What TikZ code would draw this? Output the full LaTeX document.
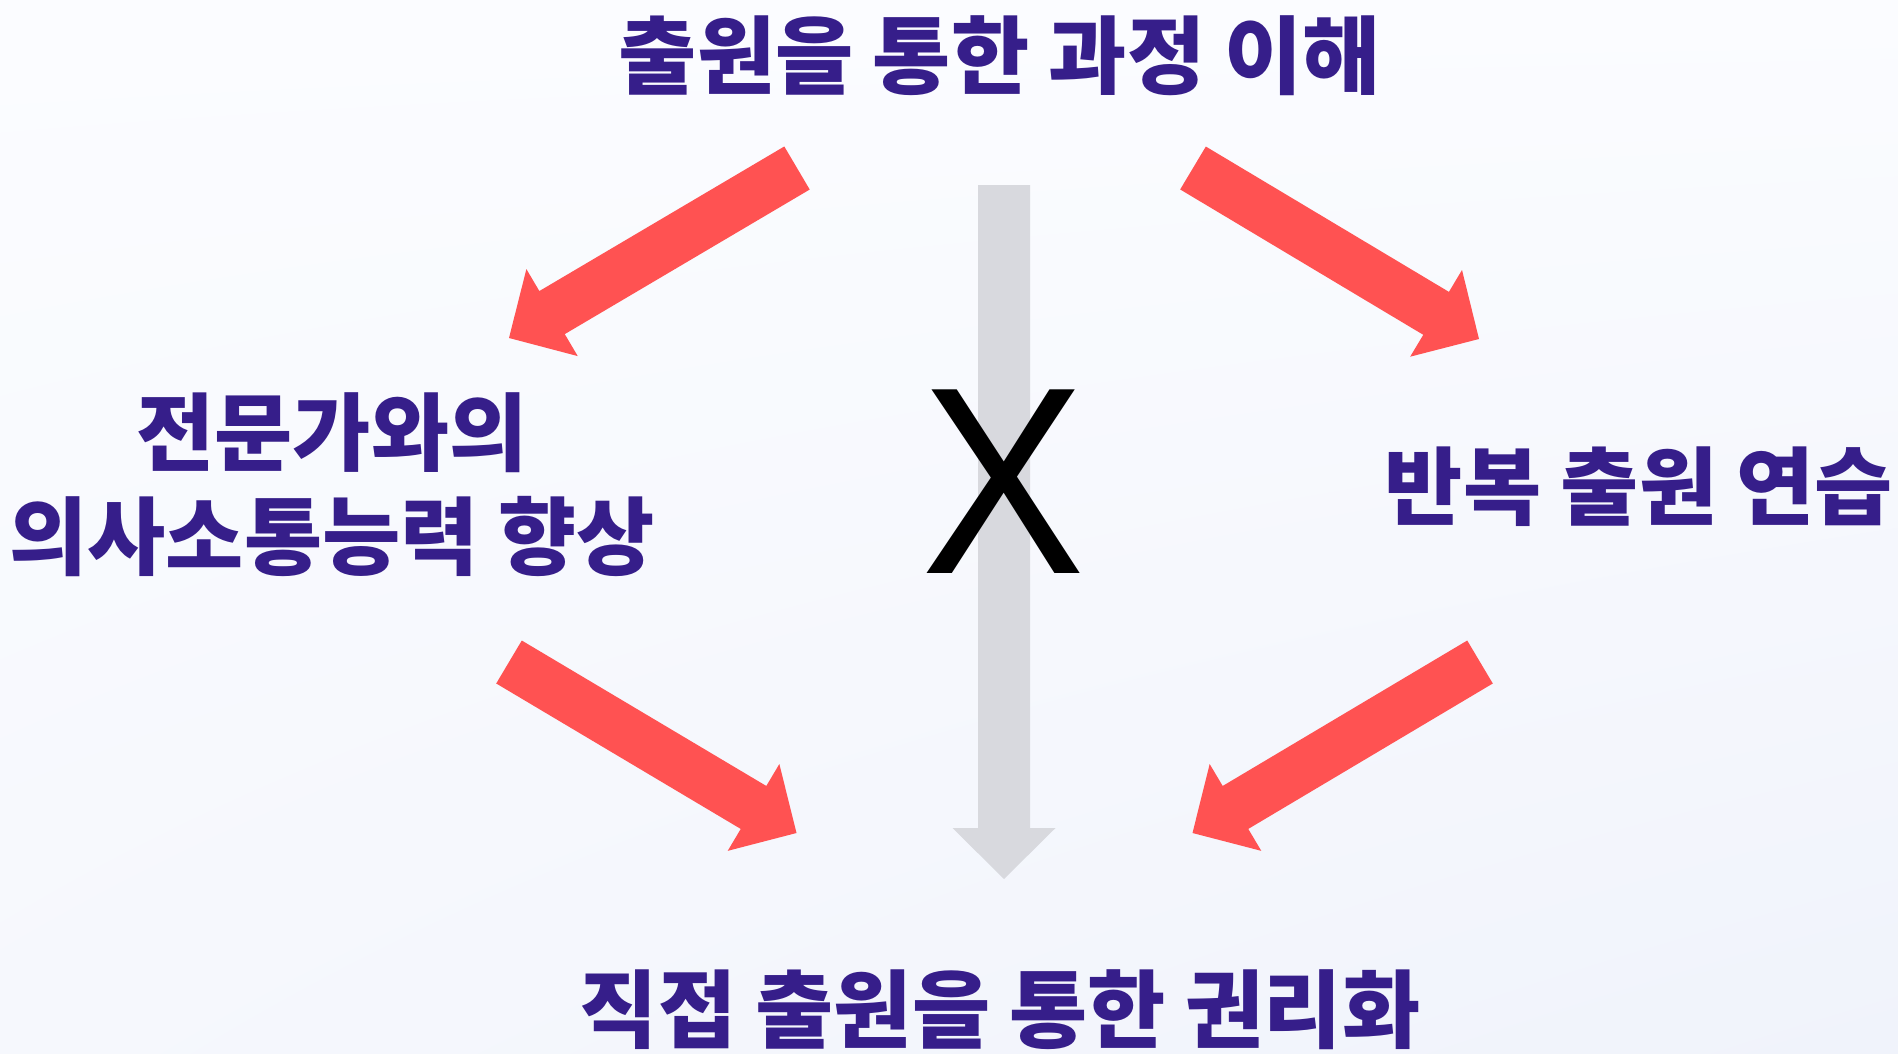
\documentclass[tikz,border=0pt]{standalone}
\usepackage{fontspec}
\usetikzlibrary{calc,shadings}
\newfontfamily\kr{Noto Sans CJK KR}
\newfontfamily\xfont{Liberation Sans}
\definecolor{txt}{RGB}{54,30,138}
\definecolor{redA}{RGB}{255,82,82}
\definecolor{grayA}{RGB}{216,217,222}
\definecolor{bgA}{RGB}{251,252,255}
\definecolor{bgB}{RGB}{240,243,251}
\definecolor{bgC}{RGB}{246,248,253}
% #1 style, #2 start, #3 tip, #4 half shaft, #5 half head, #6 head length
\newcommand{\fatarrow}[6]{%
  \coordinate (fah) at ($(#3)!#6!(#2)$);
  \fill[#1] ($(#2)!#4!90:(#3)$) -- ($(fah)!#4!90:(#3)$) -- ($(fah)!#5!90:(#3)$) -- (#3)
    -- ($(fah)!#5!-90:(#3)$) -- ($(fah)!#4!-90:(#3)$) -- ($(#2)!#4!-90:(#3)$) -- cycle;}
\tikzset{
  lbl/.style={inner sep=0pt, text=txt, font=\kr\bfseries\fontsize{85}{104}\selectfont},
  xmark/.style={inner sep=0pt, text=black, font=\xfont\fontsize{267}{300}\selectfont},
  redarrow/.style={fill=redA},
  grayarrow/.style={fill=grayA}
}
\begin{document}
\begin{tikzpicture}[x=1pt,y=1pt]
\useasboundingbox (0,0) rectangle (1898,-1054);
\shade[upper left=bgA, upper right=bgA, lower left=bgC, lower right=bgB] (0,0) rectangle (1898,-1054);

% gray arrow
\coordinate (gs) at (1004,-185);
\coordinate (ge) at (1004,-879);
\fatarrow{grayarrow}{gs}{ge}{26pt}{51.5pt}{51pt}

\node[xmark, xscale=0.92] (x) at (1003,-481.5) {X};

% red arrows
\coordinate (a1s) at (797,-168);
\coordinate (a1e) at (509,-338);
\coordinate (a2s) at (1193,-168);
\coordinate (a2e) at (1479,-339);
\coordinate (a3s) at (509,-662);
\coordinate (a3e) at (796.5,-833);
\coordinate (a4s) at (1480,-662);
\coordinate (a4e) at (1192.5,-833);
\fatarrow{redarrow}{a1s}{a1e}{25pt}{50.5pt}{50pt}
\fatarrow{redarrow}{a2s}{a2e}{25pt}{50.5pt}{50pt}
\fatarrow{redarrow}{a3s}{a3e}{25pt}{50.5pt}{50pt}
\fatarrow{redarrow}{a4s}{a4e}{25pt}{50.5pt}{50pt}

\node[lbl] (top) at (1000,-56) {출원을 통한 과정 이해};
\node[lbl, align=center] (left) at (332,-485) {전문가와의\\의사소통능력 향상};
\node[lbl] (right) at (1639,-486.5) {반복 출원 연습};
\node[lbl] (bottom) at (1000,-1010) {직접 출원을 통한 권리화};
\end{tikzpicture}
\end{document}
